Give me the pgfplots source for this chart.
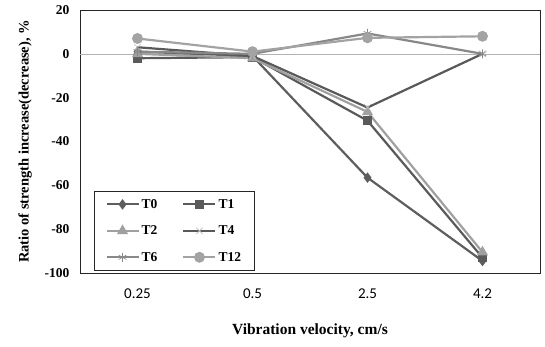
\documentclass[border=0pt]{standalone}
\usepackage{fontspec}
\setmainfont{Liberation Serif}
\newfontfamily\calib{Carlito}
\usepackage{pgfplots}
\pgfplotsset{compat=1.18}
\definecolor{cT0}{HTML}{5E5E5E}
\definecolor{cT1}{HTML}{5A5A5A}
\definecolor{cT2}{HTML}{A0A0A0}
\definecolor{cT4}{HTML}{595959}
\definecolor{cT6}{HTML}{888888}
\definecolor{cT12}{HTML}{A3A3A3}
\begin{document}
\begin{tikzpicture}[x=1pt,y=1pt]
\useasboundingbox (-80,-73) rectangle (465,273);
\begin{axis}[
  at={(0,0)}, anchor=south west,
  scale only axis, width=460pt, height=263pt,
  xmin=-0.5, xmax=3.5, ymin=-100, ymax=20,
  xtick={0,1,2,3}, xticklabels={0.25,0.5,2.5,4.2},
  ytick={-100,-80,-60,-40,-20,0,20},
  major tick length=0pt,
  axis line style={black!85, line width=0.9pt},
  x tick label style={font=\calib\fontsize{15}{17}\selectfont, yshift=-12pt},
  y tick label style={font=\bfseries\fontsize{13.5}{15}\selectfont, xshift=-7pt},
  /pgf/number format/assume math mode=true,
  xlabel={\bfseries Vibration velocity, cm/s},
  ylabel={\bfseries Ratio of strength increase(decrease), \%},
  xlabel style={font=\fontsize{15.5}{17}\selectfont, yshift=-18pt},
  ylabel style={font=\fontsize{14.5}{16}\selectfont, yshift=6pt},
  legend columns=2,
  legend cell align=left,
  legend style={at={(0.0305,0.008)}, anchor=south west, draw=black!85, line width=0.8pt,
    font=\bfseries\fontsize{13.5}{15}\selectfont, inner xsep=11pt, inner ysep=6pt,
    row sep=12pt, /tikz/every even column/.append style={column sep=23pt}},
  legend image code/.code={\draw[mark repeat=2,mark phase=2,#1] plot coordinates {(0pt,0pt) (16pt,0pt) (32pt,0pt)};},
  every axis plot/.append style={line width=2.2pt},
]
\addplot[gray!60, line width=0.6pt, forget plot] coordinates {(-0.5,0) (3.5,0)};
\addplot[cT0, mark=diamond*, mark size=3.5pt, mark options={solid}] coordinates {(0,1) (1,-1) (2,-56.5) (3,-94.5)};
\addlegendentry{T0}
\addplot[cT1, mark=square*, mark size=3.5pt] coordinates {(0,-2) (1,-1.5) (2,-30.5) (3,-93)};
\addlegendentry{T1}
\addplot[cT2, mark=triangle*, mark size=4.2pt] coordinates {(0,0) (1,-2) (2,-26.5) (3,-90.5)};
\addlegendentry{T2}
\addplot[cT4, mark=x, mark size=4.5pt, mark options={line width=0.6pt, draw=gray!50}] coordinates {(0,3) (1,-1) (2,-24.5) (3,0)};
\addlegendentry{T4}
\addplot[cT6, mark=asterisk, mark size=4.5pt, mark options={line width=0.6pt}] coordinates {(0,1) (1,0) (2,9.3) (3,0)};
\addlegendentry{T6}
\addplot[cT12, mark=*, mark size=4.3pt] coordinates {(0,7) (1,1) (2,7.3) (3,8)};
\addlegendentry{T12}
\end{axis}
\end{tikzpicture}
\end{document}
